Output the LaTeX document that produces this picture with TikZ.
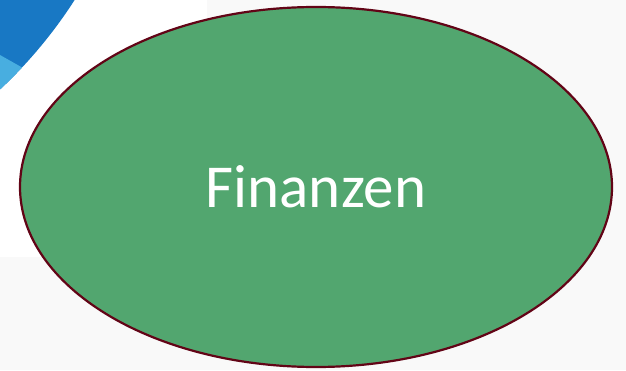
\documentclass[tikz,border=0pt]{standalone}
\usepackage{fontspec}
\setmainfont{Carlito}
\usetikzlibrary{shapes.geometric}
\definecolor{bggray}{RGB}{249,249,249}
\definecolor{darkblue}{RGB}{24,120,196}
\definecolor{lightblue}{RGB}{72,174,224}
\definecolor{finanzgreen}{RGB}{82,166,111}
\definecolor{rimred}{RGB}{98,4,22}
\begin{document}
\begin{tikzpicture}[
        x=1pt, y=1pt,
        blob/.style={ellipse, draw=rimred, line width=2.2pt, fill=finanzgreen,
            minimum width=592pt, minimum height=360pt, inner sep=0pt,
            text=white, font=\fontsize{61}{66}\selectfont}, % Stil der Ellipse
    ]
    % Hintergrund
    \fill[bggray] (0,0) rectangle (626,370);
    \useasboundingbox (0,0) rectangle (626,370);
    \fill[white] (0,113) rectangle (207,370);

    % Kreissegment oben links
    \begin{scope}
        \clip (0,113) rectangle (207,370);
        \fill[darkblue] (-319.5,622.5) circle (468);
        \clip (-319.5,622.5) circle (468);
        \fill[lightblue] (0,315) -- (46,289) -- (46,230) -- (0,230) -- cycle;
    \end{scope}

    \node[blob] (finanzen) at (316,183) {Finanzen};
\end{tikzpicture}
\end{document}
